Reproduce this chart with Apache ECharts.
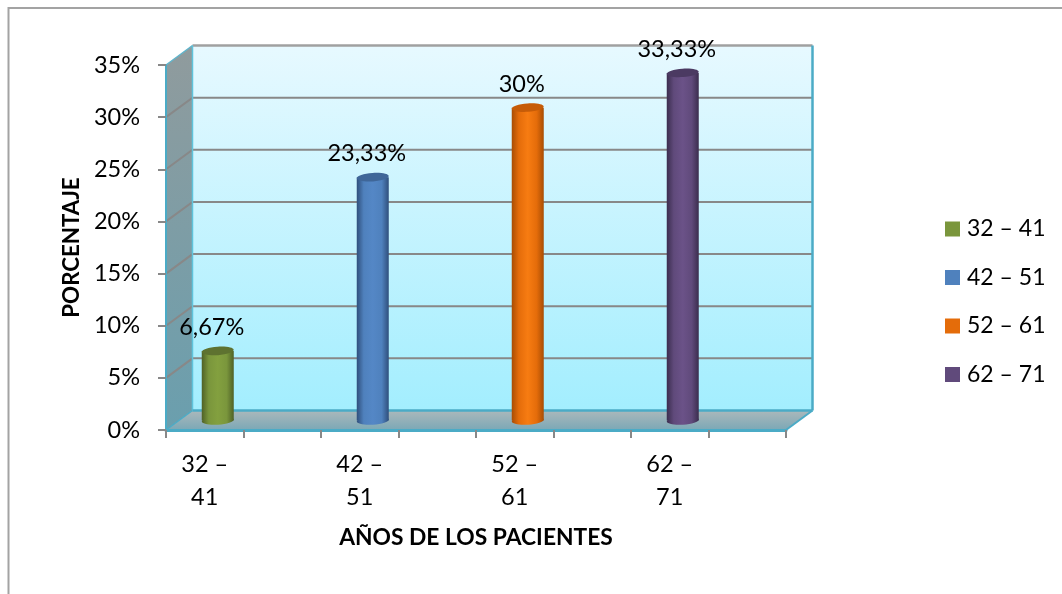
<!DOCTYPE html>
<html>
<head>
<meta charset="utf-8">
<style>html,body{margin:0;padding:0;background:#fff}#chart{width:1062px;height:594px}</style>
<script src="https://cdn.jsdelivr.net/npm/echarts@6/dist/echarts.min.js"></script>
</head>
<body>
<div id="chart"></div>
<script>
// Age bands of the patients and their share in percent
const ageBands = ['32 – 41', '42 – 51', '52 – 61', '62 – 71'];
const shares = [6.67, 23.33, 30, 33.33];
// The category axis has eight slots; every odd one stays empty
const axisSlots = ['32 –\n41', '', '42 –\n51', '', '52 –\n61', '', '62 –\n71', ''];
const bandSlots = [0, 2, 4, 6];
const percentTicks = [0, 5, 10, 15, 20, 25, 30, 35];
const legendColors = ['#7a963c', '#4f81bd', '#e46c0a', '#604a7b'];
const edgeColors = ['#4f6126', '#2f4f7c', '#a84d04', '#3b2d4e'];
const midColors = ['#83a03f', '#5487c6', '#f77c12', '#6b5288'];
const capColors = ['#5e7230', '#3f6698', '#c65c08', '#4b3a62'];

const fontName = 'Lato, Carlito, sans-serif';
const depthX = 26.5, depthY = 19.5;      // shift from the front plane to the back wall
const barShiftX = 13, barShiftY = 9.5;   // bars stand midway through the depth
const barRadius = 16, capRadius = 4.2, capTilt = 0.07;

function vGrad(top, bottom) {
  return {type: 'linear', x: 0, y: 0, x2: 0, y2: 1,
    colorStops: [{offset: 0, color: top}, {offset: 1, color: bottom}]};
}

// Back wall, side wall, floor and the gridlines running over them
function renderRoom(params, api) {
  const r = params.coordSys;
  const L = r.x, R = r.x + r.width, T = r.y, B = r.y + r.height;
  const teal = '#4babc6', gray = '#888888';
  const kids = [
    {type: 'polygon', shape: {points: [[L + depthX, T - depthY], [R + depthX, T - depthY], [R + depthX, B - depthY], [L + depthX, B - depthY]]},
      style: {fill: vGrad('#e7f9ff', '#a3eefe')}},
    {type: 'polygon', shape: {points: [[L, T], [L + depthX, T - depthY], [L + depthX, B - depthY], [L, B]]},
      style: {fill: vGrad('#909b9d', '#6a9fae')}},
    {type: 'polygon', shape: {points: [[L, B], [L + depthX, B - depthY], [R + depthX, B - depthY], [R, B]]},
      style: {fill: vGrad('#abb8bb', '#7ba8b6')}}
  ];
  percentTicks.forEach(function (t) {
    if (t === 0) return;
    const y = api.coord([0, t])[1];
    if (t < 35) {
      kids.push({type: 'polyline', shape: {points: [[L, y], [L + depthX, y - depthY], [R + depthX, y - depthY]]},
        style: {fill: 'none', stroke: gray, lineWidth: 2}});
    }
  });
  kids.push(
    {type: 'line', shape: {x1: L + depthX, y1: T - depthY, x2: R + depthX, y2: T - depthY}, style: {stroke: '#a0a0a0', lineWidth: 2.5}},
    {type: 'line', shape: {x1: L, y1: T, x2: L + depthX, y2: T - depthY}, style: {stroke: '#5fb5cc', lineWidth: 1.5}},
    {type: 'line', shape: {x1: L + depthX, y1: T - depthY, x2: L + depthX, y2: B - depthY}, style: {stroke: '#5fc4dc', lineWidth: 1.5}},
    {type: 'line', shape: {x1: R + depthX, y1: T - depthY, x2: R + depthX, y2: B - depthY}, style: {stroke: teal, lineWidth: 2.5}},
    {type: 'line', shape: {x1: L + depthX, y1: B - depthY, x2: R + depthX, y2: B - depthY}, style: {stroke: teal, lineWidth: 2.5}},
    {type: 'line', shape: {x1: L, y1: B, x2: L + depthX, y2: B - depthY}, style: {stroke: teal, lineWidth: 1.5}},
    {type: 'line', shape: {x1: R, y1: B, x2: R + depthX, y2: B - depthY}, style: {stroke: teal, lineWidth: 2}}
  );
  return {type: 'group', children: kids};
}

// One shaded cylinder with its value printed above it
function cylinder(index) {
  return function (params, api) {
    const base = api.coord([api.value(0), 0]);
    const top = api.coord([api.value(0), api.value(1)]);
    const cx = base[0] + barShiftX;
    const yBase = base[1] - barShiftY;
    const yTop = top[1] - barShiftY;
    const shade = {type: 'linear', x: 0, y: 0, x2: 1, y2: 0, colorStops: [
      {offset: 0, color: edgeColors[index]},
      {offset: 0.22, color: legendColors[index]},
      {offset: 0.5, color: midColors[index]},
      {offset: 0.78, color: legendColors[index]},
      {offset: 1, color: edgeColors[index]}
    ]};
    const text = String(api.value(1)).replace('.', ',') + '%';
    return {type: 'group', children: [
      {type: 'ellipse', shape: {cx: cx, cy: yBase, rx: barRadius, ry: capRadius},
        originX: cx, originY: yBase, rotation: capTilt, style: {fill: shade}},
      {type: 'rect', shape: {x: cx - barRadius, y: yTop, width: barRadius * 2, height: yBase - yTop}, style: {fill: shade}},
      {type: 'ellipse', shape: {cx: cx, cy: yTop, rx: barRadius, ry: capRadius},
        originX: cx, originY: yTop, rotation: capTilt, style: {fill: capColors[index]}},
      {type: 'text', x: cx - 6, y: yTop - 23.5,
        style: {text: text, fill: '#000', font: '23.5px ' + fontName, textAlign: 'center', textVerticalAlign: 'middle'}}
    ]};
  };
}

const series = [{
  name: 'room', type: 'custom', z: 1, silent: true, clip: false,
  data: [[0, 0]], renderItem: renderRoom, tooltip: {show: false}
}];
ageBands.forEach(function (band, i) {
  series.push({
    name: band, type: 'custom', z: 2, clip: false,
    itemStyle: {color: legendColors[i]},
    data: [[bandSlots[i], shares[i]]],
    encode: {x: 0, y: 1},
    renderItem: cylinder(i)
  });
});

const chart = echarts.init(document.getElementById('chart'), null, {renderer: 'canvas'});
chart.setOption({
  animation: false,
  backgroundColor: '#ffffff',
  textStyle: {fontFamily: fontName},
  grid: {left: 166, top: 65, width: 620, height: 365, containLabel: false},
  legend: {
    data: ageBands, orient: 'vertical', left: 940, top: 212,
    icon: 'rect', itemWidth: 15, itemHeight: 15, itemGap: 24.5,
    textStyle: {fontSize: 23, color: '#000', lineHeight: 24, fontFamily: fontName, padding: [0, 0, 0, 2]}
  },
  xAxis: {
    type: 'category', data: axisSlots, z: 3,
    name: 'AÑOS DE LOS PACIENTES', nameLocation: 'middle', nameGap: 96,
    nameTextStyle: {fontSize: 22.8, fontWeight: 'bold', color: '#000', fontFamily: fontName},
    axisLine: {lineStyle: {color: '#4babc6', width: 3}},
    axisTick: {show: true, length: 8, interval: 0, alignWithLabel: false, lineStyle: {color: '#888888', width: 2}},
    axisLabel: {interval: 0, fontSize: 23.5, lineHeight: 33, color: '#000', margin: 18, fontFamily: fontName},
    splitLine: {show: false}
  },
  yAxis: {
    type: 'value', min: 0, max: 35, interval: 5, z: 3,
    name: 'PORCENTAJE', nameLocation: 'middle', nameGap: 82, nameRotate: 90,
    nameTextStyle: {fontSize: 22.3, fontWeight: 'bold', color: '#000', fontFamily: fontName},
    axisLine: {show: true, lineStyle: {color: '#4babc6', width: 2}},
    axisTick: {show: true, length: 8, lineStyle: {color: '#888888', width: 2}},
    axisLabel: {fontSize: 23.5, color: '#000', margin: 26, fontFamily: fontName, formatter: '{value}%'},
    splitLine: {show: false}
  },
  series: series,
  graphic: [
    {type: 'polyline', silent: true, shape: {points: [[8.5, 594], [8.5, 8], [1062, 8]]},
      style: {fill: 'none', stroke: '#a3a3a3', lineWidth: 2}}
  ]
});
</script>
</body>
</html>
